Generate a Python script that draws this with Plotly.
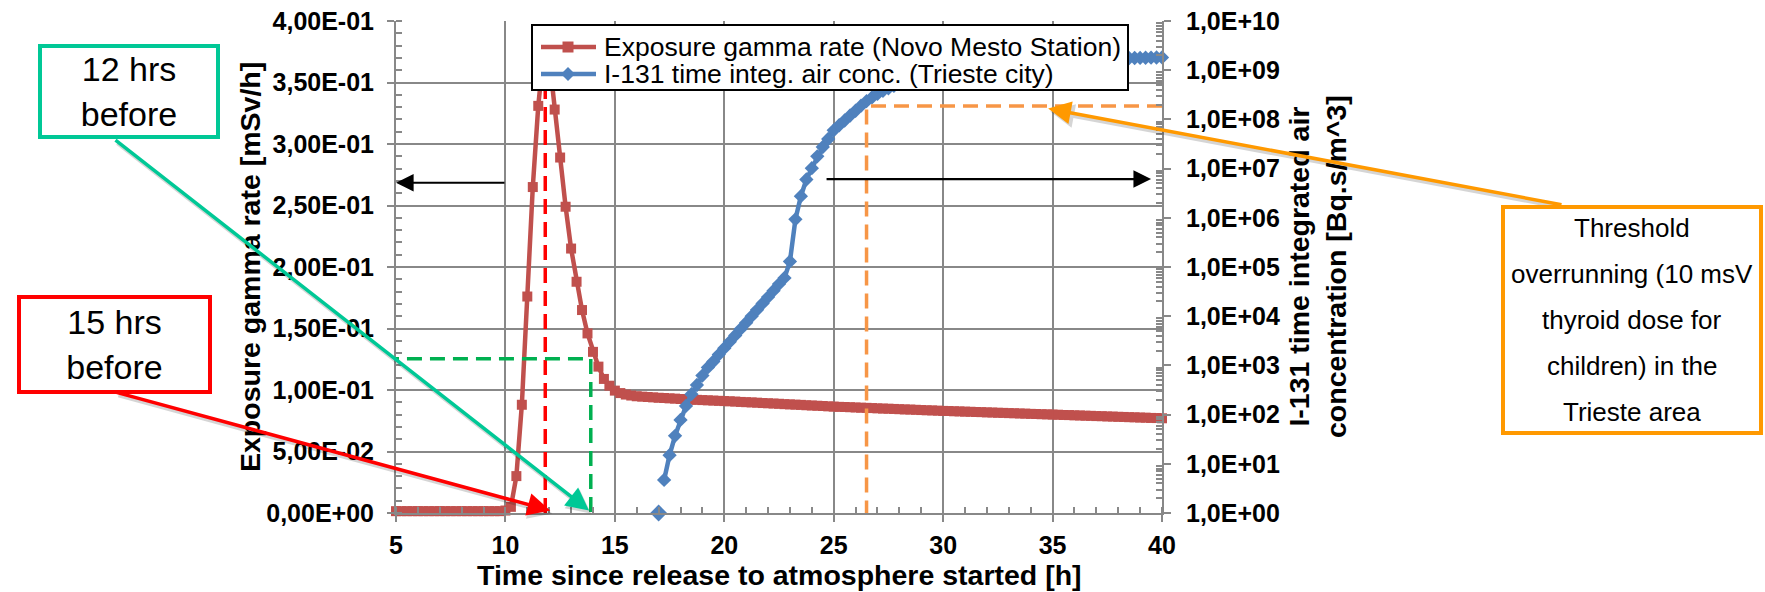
import plotly.graph_objects as go

# ---------------- data ----------------
# Exposure gamma rate (Novo Mesto Station) [mSv/h], sampled every 0.25 h from 5 h to 40 h
gamma_t_start = 5.0
gamma_t_step = 0.25
gamma_rate = [
    0.0015, 0.0015, 0.0015, 0.0015, 0.0015, 0.0015, 0.0015, 0.0015, 0.0015, 0.0015,
    0.0015, 0.0015, 0.0015, 0.0015, 0.0015, 0.0015, 0.0015, 0.0015, 0.0015, 0.0015,
    0.0020,
    0.005, 0.030, 0.088, 0.176, 0.265, 0.331, 0.375, 0.370, 0.328, 0.289,
    0.249, 0.215, 0.188, 0.165, 0.146, 0.131, 0.119, 0.109, 0.1035, 0.0995,
    0.0975, 0.0963, 0.0955, 0.0949,
    0.0946, 0.0943, 0.0940, 0.0937, 0.0935, 0.0932, 0.0930, 0.0927, 0.0925, 0.0922,
    0.0920, 0.0918, 0.0916, 0.0914, 0.0912, 0.0910,
    0.0908, 0.0906, 0.0903, 0.0901, 0.0899, 0.0897, 0.0894, 0.0892, 0.0890, 0.0888,
    0.0885, 0.0883, 0.0881, 0.0879, 0.0876, 0.0874, 0.0872, 0.0870, 0.0867, 0.0865,
    0.0863, 0.0862, 0.0860, 0.0858, 0.0856, 0.0855, 0.0853, 0.0851, 0.0849, 0.0848,
    0.0846, 0.0844, 0.0842, 0.0841, 0.0839, 0.0837, 0.0835, 0.0834, 0.0832, 0.0830,
    0.0829, 0.0827, 0.0826, 0.0824, 0.0823, 0.0821, 0.0820, 0.0818, 0.0817, 0.0815,
    0.0814, 0.0812, 0.0811, 0.0809, 0.0808, 0.0806, 0.0805, 0.0803, 0.0802, 0.0800,
    0.0799, 0.0797, 0.0796, 0.0794, 0.0793, 0.0791, 0.0790, 0.0788, 0.0787, 0.0785,
    0.0784, 0.0782, 0.0781, 0.0779, 0.0778, 0.0776, 0.0775, 0.0773, 0.0772, 0.0770,
]
gamma_t = [gamma_t_start + gamma_t_step * i for i in range(len(gamma_rate))]

# I-131 time integrated air concentration (Trieste city) [Bq.s/m^3], every 0.25 h from 17 h to 40 h
iodine_t_start = 17.0
iodine_t_step = 0.25
iodine_conc = [
    1.0, 4.7, 15, 37,
    78, 150, 260, 400,
    620, 910, 1200, 1660,
    2240, 3020, 4070, 5500,
    7400, 1.0e4, 1.35e4, 1.82e4,
    2.45e4, 3.3e4, 4.5e4, 6.0e4,
    1.3e5, 9.3e5, 2.75e6, 6.0e6,
    1.02e7, 1.78e7, 2.75e7, 4.0e7,
    6.0e7, 7.6e7, 9.5e7, 1.2e8,
    1.5e8, 1.9e8, 2.35e8, 2.8e8,
    3.3e8, 3.8e8, 4.3e8, 4.8e8,
    5.25e8, 5.75e8, 6.3e8, 6.75e8,
    7.25e8, 7.75e8, 8.3e8, 8.9e8,
    9.3e8, 9.8e8, 1.02e9, 1.07e9,
    1.12e9, 1.15e9, 1.2e9, 1.23e9,
    1.26e9, 1.29e9, 1.32e9, 1.35e9,
    1.38e9, 1.41e9, 1.45e9, 1.48e9,
    1.5e9, 1.52e9, 1.55e9, 1.56e9,
    1.58e9, 1.6e9, 1.62e9, 1.63e9,
    1.65e9, 1.66e9, 1.67e9, 1.69e9,
    1.7e9, 1.71e9, 1.72e9, 1.73e9,
    1.74e9, 1.75e9, 1.76e9, 1.77e9,
    1.78e9, 1.79e9, 1.8e9, 1.81e9,
    1.82e9,
]
iodine_t = [iodine_t_start + iodine_t_step * i for i in range(len(iodine_conc))]

series_names = ["Exposure gamma rate (Novo Mesto Station)",
                "I-131 time integ. air conc. (Trieste city)"]

# reference markers
t_15h_before = 11.82
t_12h_before = 13.9
level_12h = 0.1254
t_threshold = 26.5
threshold_conc = 1.87e8

x_ticks = [5, 10, 15, 20, 25, 30, 35, 40]
y_ticks = [0, 0.05, 0.10, 0.15, 0.20, 0.25, 0.30, 0.35, 0.40]
y_tick_text = ["0,00E+00", "5,00E-02", "1,00E-01", "1,50E-01", "2,00E-01",
               "2,50E-01", "3,00E-01", "3,50E-01", "4,00E-01"]
y2_ticks = [1, 1e1, 1e2, 1e3, 1e4, 1e5, 1e6, 1e7, 1e8, 1e9, 1e10]
y2_tick_text = ["1,0E+00", "1,0E+01", "1,0E+02", "1,0E+03", "1,0E+04", "1,0E+05",
                "1,0E+06", "1,0E+07", "1,0E+08", "1,0E+09", "1,0E+10"]
y2_minor = [k * 10 ** d for d in range(10) for k in range(2, 10)]

threshold_lines = ["Threshold", "overrunning (10 msV", "thyroid dose for",
                   "children) in the", "Trieste area"]

# ---------------- layout helpers ----------------
W, H = 1765, 592
L, R, T, B = 396, 1162, 21, 513
PW, PH = R - L, B - T
X_RANGE = (5, 40)
Y_RANGE = (0, 0.4)
Y2_RANGE = (0, 10)


def px(xp):
    return (xp - L) / PW


def py(yp):
    return (B - yp) / PH


def x_to_px(t):
    return L + (t - X_RANGE[0]) / (X_RANGE[1] - X_RANGE[0]) * PW


def y_to_px(v):
    return B - (v - Y_RANGE[0]) / (Y_RANGE[1] - Y_RANGE[0]) * PH


def y2log_to_px(lv):
    return B - (lv - Y2_RANGE[0]) / (Y2_RANGE[1] - Y2_RANGE[0]) * PH


FONT = "Liberation Sans, Arial, sans-serif"
GRID = "#888888"
RED = "#C0504D"
BLUE = "#4F81BD"

fig = go.Figure()

fig.add_trace(go.Scatter(
    x=gamma_t, y=gamma_rate, name=series_names[0], showlegend=False,
    mode="lines+markers", line=dict(color=RED, width=4.5),
    marker=dict(symbol="square", size=10, color=RED), cliponaxis=False,
))
fig.add_trace(go.Scatter(
    x=iodine_t[1:], y=iodine_conc[1:], name=series_names[1], showlegend=False,
    mode="lines+markers", line=dict(color=BLUE, width=4.5),
    marker=dict(symbol="diamond", size=11, color=BLUE), yaxis="y2", cliponaxis=False,
))
fig.add_trace(go.Scatter(
    x=iodine_t[:1], y=iodine_conc[:1], mode="markers", showlegend=False,
    marker=dict(symbol="diamond", size=13, color=BLUE), yaxis="y2", cliponaxis=False,
))

# dashed guide lines
fig.add_trace(go.Scatter(x=[t_15h_before, t_15h_before], y=[0, 0.37], mode="lines",
                         line=dict(color="#FF0000", width=3.5, dash="15px,8px"), showlegend=False))
fig.add_trace(go.Scatter(x=[4.45, t_12h_before, t_12h_before], y=[level_12h, level_12h, 0],
                         mode="lines", line=dict(color="#00B050", width=3.5, dash="15px,8px"),
                         showlegend=False, cliponaxis=False))
fig.add_trace(go.Scatter(x=[40, t_threshold, t_threshold], y=[threshold_conc, threshold_conc, 1],
                         mode="lines", yaxis="y2",
                         line=dict(color="#F79646", width=3.5, dash="15px,8px"), showlegend=False))

axis_common = dict(showline=True, linecolor=GRID, linewidth=2, tickcolor=GRID, automargin=False,
                   tickfont=dict(family=FONT, size=25, color="black", weight="bold"))

fig.update_layout(
    width=W, height=H,
    margin=dict(l=L, r=W - R, t=T, b=H - B, pad=0, autoexpand=False),
    paper_bgcolor="white", plot_bgcolor="white",
    font=dict(family=FONT, color="black"),
    showlegend=False,
    xaxis=dict(range=list(X_RANGE), tickmode="array", tickvals=x_ticks,
               ticktext=[str(v) for v in x_ticks],
               showgrid=True, gridcolor=GRID, gridwidth=2, zeroline=False,
               ticks="outside", ticklen=7, tickwidth=2, ticklabelstandoff=2,
               minor=dict(tickmode="linear", tick0=5, dtick=1, ticks="inside", ticklen=6,
                          tickwidth=1.5, tickcolor=GRID, showgrid=False),
               **axis_common),
    yaxis=dict(range=list(Y_RANGE), tickmode="array", tickvals=y_ticks, ticktext=y_tick_text,
               showgrid=True, gridcolor=GRID, gridwidth=2, zeroline=False,
               ticks="outside", ticklen=7, tickwidth=2, ticklabelstandoff=8,
               minor=dict(tickmode="linear", tick0=0, dtick=0.01, ticks="inside", ticklen=6,
                          tickwidth=1.5, tickcolor=GRID, showgrid=False),
               **axis_common),
    yaxis2=dict(type="log", range=list(Y2_RANGE), overlaying="y", side="right",
                tickmode="array", tickvals=y2_ticks, ticktext=y2_tick_text,
                showgrid=False, zeroline=False,
                ticks="outside", ticklen=7, tickwidth=2, ticklabelstandoff=10,
                minor=dict(tickmode="array", tickvals=y2_minor, ticks="inside", ticklen=6,
                           tickwidth=1.5, tickcolor=GRID, showgrid=False),
                **axis_common),
)

# ---------------- legend (drawn as a framed box above the plot) ----------------
leg_x0, leg_x1, leg_y0, leg_y1 = 532, 1128, 25, 90
row_y = [47.0, 74.0]
sym_x0, sym_x1, sym_cx = 541, 596, 568
shapes = [
    dict(type="rect", xref="paper", yref="paper", x0=px(leg_x0), x1=px(leg_x1),
         y0=py(leg_y1), y1=py(leg_y0), line=dict(color="black", width=2),
         fillcolor="white", layer="above"),
]
for ry, col in zip(row_y, [RED, BLUE]):
    shapes.append(dict(type="line", xref="paper", yref="paper", x0=px(sym_x0), x1=px(sym_x1),
                       y0=py(ry), y1=py(ry), line=dict(color=col, width=4.5), layer="above"))
shapes.append(dict(type="rect", xref="paper", yref="paper", x0=px(sym_cx - 5.5), x1=px(sym_cx + 5.5),
                   y0=py(row_y[0] + 5.5), y1=py(row_y[0] - 5.5), fillcolor=RED,
                   line=dict(width=0), layer="above"))
d = 7
diamond = (f"M {px(sym_cx - d)},{py(row_y[1])} L {px(sym_cx)},{py(row_y[1] - d)} "
           f"L {px(sym_cx + d)},{py(row_y[1])} L {px(sym_cx)},{py(row_y[1] + d)} Z")
shapes.append(dict(type="path", xref="paper", yref="paper", path=diamond, fillcolor=BLUE,
                   line=dict(width=0), layer="above"))
fig.update_layout(shapes=shapes)

title_font = dict(family=FONT, size=28.5, color="black", weight="bold")
box_font = dict(family=FONT, size=34, color="black")
legend_font = dict(family=FONT, size=26.5, color="black")

annotations = []
for ry, name in zip(row_y, series_names):
    annotations.append(dict(text=name, x=px(602), y=py(ry), xref="paper", yref="paper",
                            showarrow=False, font=legend_font, xanchor="left", yanchor="middle"))

annotations += [
    # axis titles
    dict(text="Time since release to atmosphere started [h]", x=0.5, y=py(575),
         xref="paper", yref="paper", showarrow=False, font=title_font,
         xanchor="center", yanchor="middle"),
    dict(text="Exposure gamma rate [mSv/h]", x=px(250), y=0.5, xref="paper", yref="paper",
         showarrow=False, font=title_font, textangle=-90, xanchor="center", yanchor="middle"),
    dict(text="I-131 time integrated air<br>concentration [Bq.s/m^3]", x=px(1317), y=0.5,
         xref="paper", yref="paper", showarrow=False, font=title_font, textangle=-90,
         xanchor="center", yanchor="middle"),
    # black direction arrows
    dict(x=5, y=0.2685, xref="x", yref="y", ax=110, ay=0, axref="pixel", ayref="pixel",
         text="", showarrow=True, arrowhead=2, arrowsize=1.6, arrowwidth=2.2,
         arrowcolor="black", standoff=0),
    dict(x=39.5, y=0.2715, xref="x", yref="y", ax=-326, ay=0, axref="pixel", ayref="pixel",
         text="", showarrow=True, arrowhead=2, arrowsize=1.6, arrowwidth=2.2,
         arrowcolor="black", standoff=0),
]

# callout arrows (tip in data units, tail at the box edge in pixels), with a soft shadow
callouts = [
    dict(x=13.82, y=0.002, yref="y", tail=(114, 139), color="#00C896"),
    dict(x=12.05, y=0.002, yref="y", tail=(115, 392), color="#FF0000"),
    dict(x=34.8, y=8.22, yref="y2", tail=(1563, 205), color="#FF9900"),
]
for c in callouts:
    tip_x = x_to_px(c["x"])
    tip_y = y_to_px(c["y"]) if c["yref"] == "y" else y2log_to_px(c["y"])
    c["ax"] = c["tail"][0] - tip_x
    c["ay"] = c["tail"][1] - tip_y
for c in callouts:
    annotations.append(dict(x=c["x"], y=c["y"], xref="x", yref=c["yref"], ax=c["ax"], ay=c["ay"],
                            text="", showarrow=True, arrowhead=2, arrowsize=1.2, arrowwidth=4,
                            arrowcolor="rgba(0,0,0,0.16)", standoff=0, xshift=2, yshift=-3))
for c in callouts:
    annotations.append(dict(x=c["x"], y=c["y"], xref="x", yref=c["yref"], ax=c["ax"], ay=c["ay"],
                            text="", showarrow=True, arrowhead=2, arrowsize=1.3, arrowwidth=3.5,
                            arrowcolor=c["color"], standoff=0))

# callout boxes
annotations += [
    dict(text="12 hrs<br>before", x=px(129), y=py(92), xref="paper", yref="paper",
         showarrow=False, font=box_font, bordercolor="#00C896", borderwidth=4,
         bgcolor="white", width=174, height=87, borderpad=0,
         xanchor="center", yanchor="middle"),
    dict(text="15 hrs<br>before", x=px(114), y=py(345), xref="paper", yref="paper",
         showarrow=False, font=box_font, bordercolor="#FF0000", borderwidth=4,
         bgcolor="white", width=187, height=91, borderpad=0,
         xanchor="center", yanchor="middle"),
    dict(text="", x=px(1632), y=py(320), xref="paper", yref="paper",
         showarrow=False, font=box_font, bordercolor="#FF9900", borderwidth=4,
         bgcolor="white", width=254, height=222, borderpad=0,
         xanchor="center", yanchor="middle"),
]
line_y = [228, 274, 320, 366, 412]
for ly, txt in zip(line_y, threshold_lines):
    annotations.append(dict(text=txt, x=px(1632), y=py(ly), xref="paper", yref="paper",
                            showarrow=False, font=dict(family=FONT, size=26, color="black"),
                            xanchor="center", yanchor="middle"))

fig.update_layout(annotations=annotations)

fig.write_html("out.html", config={"displayModeBar": False},
               post_script="document.body.style.margin='0px';"
                           "document.body.style.overflow='hidden';")
